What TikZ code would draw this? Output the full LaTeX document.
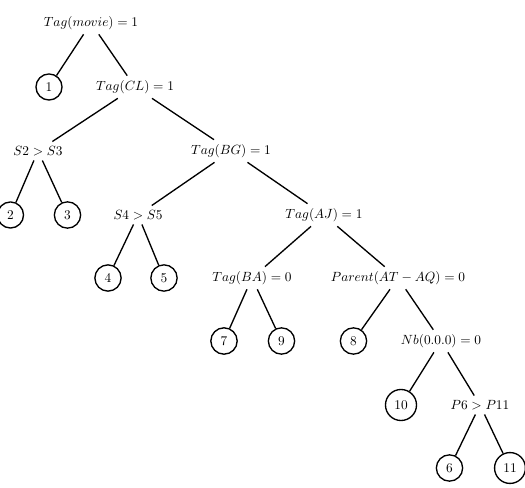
\documentclass[tikz,border=0pt]{standalone}
\begin{document}
\begin{tikzpicture}[x=0.75pt,y=-0.75pt,
  test/.style={inner sep=3.3pt},
  leaf/.style={circle,draw,line width=1pt,inner sep=4pt},
  edge/.style={line width=1pt}]
\useasboundingbox (0,0) rectangle (525,488);
% decision nodes
\node[test] (root) at (91,23)  {$Tag(movie)=1$};
\node[test] (cl)   at (135,87) {$Tag(CL)=1$};
\node[test] (s23)  at (38,151) {$S2>S3$};
\node[test] (bg)   at (231,151) {$Tag(BG)=1$};
\node[test] (s45)  at (138,215) {$S4>S5$};
\node[test] (aj)   at (324,215) {$Tag(AJ)=1$};
\node[test] (ba)   at (252,278) {$Tag(BA)=0$};
\node[test] (par)  at (398,278) {$Parent(AT-AQ)=0$};
\node[test] (nb)   at (441,341) {$Nb(0.0.0)=0$};
\node[test] (p6)   at (480,405) {$P6>P11$};
% leaves
\node[leaf] (l1)  at (49,87)   {1};
\node[leaf] (l2)  at (10.5,215) {2};
\node[leaf] (l3)  at (67.5,215) {3};
\node[leaf] (l4)  at (108,278) {4};
\node[leaf] (l5)  at (164,278) {5};
\node[leaf] (l7)  at (224,341) {7};
\node[leaf] (l9)  at (281.5,341) {9};
\node[leaf] (l8)  at (353.5,341) {8};
\node[leaf] (l10) at (401,405) {10};
\node[leaf] (l6)  at (449.5,468) {6};
\node[leaf] (l11) at (510,468) {11};
% branches
\draw[edge] (root) -- (l1);
\draw[edge] (root) -- (cl);
\draw[edge] (cl) -- (s23);
\draw[edge] (cl) -- (bg);
\draw[edge] (s23) -- (l2);
\draw[edge] (s23) -- (l3);
\draw[edge] (bg) -- (s45);
\draw[edge] (bg) -- (aj);
\draw[edge] (s45) -- (l4);
\draw[edge] (s45) -- (l5);
\draw[edge] (aj) -- (ba);
\draw[edge] (aj) -- (par);
\draw[edge] (ba) -- (l7);
\draw[edge] (ba) -- (l9);
\draw[edge] (par) -- (l8);
\draw[edge] (par) -- (nb);
\draw[edge] (nb) -- (l10);
\draw[edge] (nb) -- (p6);
\draw[edge] (p6) -- (l6);
\draw[edge] (p6) -- (l11);
\end{tikzpicture}
\end{document}
